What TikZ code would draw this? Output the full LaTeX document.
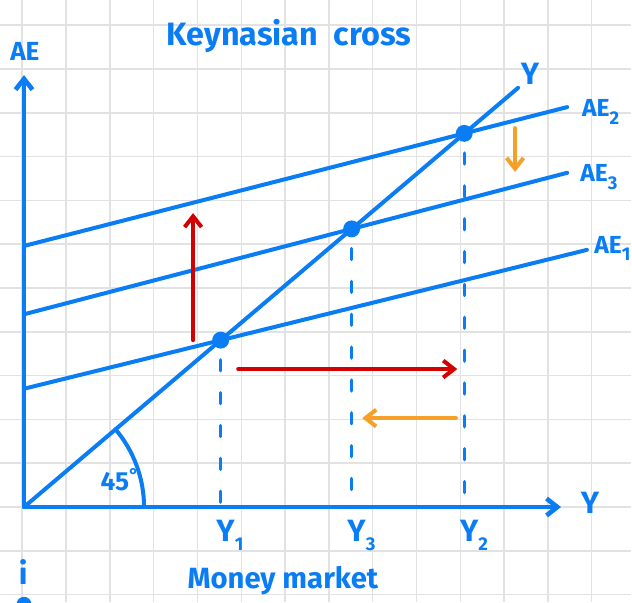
\documentclass[tikz,border=0pt]{standalone}
\usepackage{fontspec}
\setmainfont{Fira Sans}
\usepackage{tikz}
\usetikzlibrary{arrows.meta}
\definecolor{penblue}{RGB}{10,125,245}
\definecolor{penred}{RGB}{210,0,0}
\definecolor{penorange}{RGB}{245,160,40}
\definecolor{gridgray}{RGB}{226,226,226}
\newcommand{\sub}[1]{\raisebox{-0.55ex}{\fontsize{12}{12}\selectfont #1}}

\begin{document}
\begin{tikzpicture}[>={Straight Barb[length=7pt,width=11pt]},
    pen/.style={penblue,line width=2.6pt,line cap=round,line join=round},
    hand/.style={text=penblue,font=\bfseries\fontsize{17}{17}\selectfont},
    bighand/.style={hand,font=\bfseries\fontsize{20}{20}\selectfont},
    aehand/.style={hand,font=\bfseries\fontsize{16}{16}\selectfont,anchor=west,inner sep=1pt},
    dashline/.style={penblue,line width=2.2pt,line cap=round,dash pattern=on 0.25cm off 0.5cm},
    dot/.style={circle,fill=penblue,inner sep=0pt,minimum size=11pt}]
        \def\xmax{12.26}
        \def\ymax{9.86}

        \useasboundingbox (-0.548,-2.169) rectangle (13.88,11.575);

        %------------------
        % グリッド
        %------------------
        \draw[gridgray,line width=1pt,xshift=-0.04cm] (-0.5,-2.169) grid (13.9,11.575);

        %------------------
        % 軸
        %------------------
        \coordinate (O) at (0,0);
        \draw[<->,pen,line width=3pt] (0,\ymax)--(O)--(\xmax,0);

        % 直線
        \draw[pen] (O)--(11.28,9.57) coordinate (Yend);
        \draw[pen] (0,5.96)--(12.40,9.13) coordinate (AEtwo);
        \draw[pen] (0,4.40)--(12.40,7.63) coordinate (AEthree);
        \draw[pen] (0,2.70)--(12.85,5.87) coordinate (AEone);

        % 45度
        \draw[pen] (2.74,0) arc[start angle=0,end angle=40.3,radius=2.74];

        % 均衡点
        \node[dot] (E1) at (4.49,3.81) {};
        \node[dot] (E3) at (7.48,6.35) {};
        \node[dot] (E2) at (10.05,8.53) {};

        % 点線
        \draw[dashline] ([yshift=-0.45cm]E1.center)--(E1 |- O);
        \draw[dashline] ([yshift=-0.45cm]E3.center)--(E3 |- O);
        \draw[dashline] ([yshift=-0.45cm]E2.center)--(E2 |- O);

        %------------------
        % 矢印
        %------------------
        \draw[->,penred,line width=2.6pt,line cap=round] (3.86,3.81)--(3.86,6.71);
        \draw[->,penred,line width=2.6pt,line cap=round] (4.89,3.15)--(9.89,3.15);
        \draw[->,penorange,line width=2.6pt,line cap=round] (11.21,8.65)--(11.21,7.65);
        \draw[->,penorange,line width=2.6pt,line cap=round] (9.86,2.03)--(7.72,2.03);

        % ラベル
        \node[hand,font=\bfseries\fontsize{21}{21}\selectfont] (title) at (6.05,10.75) {Keynasian\ \ cross};
        \node[hand] (AElab) at (0.02,10.39) {AE};
        \node[bighand] (Ylab) at (12.92,0.09) {Y};
        \node[bighand] (Ylinelab) at (11.55,9.89) {Y};
        \node[aehand] (AE2lab) at (12.70,9.02) {AE\sub{2}};
        \node[aehand] (AE3lab) at (12.66,7.53) {AE\sub{3}};
        \node[aehand] (AE1lab) at (12.98,5.90) {AE\sub{1}};
        \node[bighand,anchor=north west] (Y1lab) at ([xshift=-0.22cm,yshift=-0.18cm]E1 |- O) {Y\sub{1}};
        \node[bighand,anchor=north west] (Y3lab) at ([xshift=-0.22cm,yshift=-0.18cm]E3 |- O) {Y\sub{3}};
        \node[bighand,anchor=north west] (Y2lab) at ([xshift=-0.22cm,yshift=-0.18cm]E2 |- O) {Y\sub{2}};
        \node[hand] (angle) at (2.19,0.62) {45\textsuperscript{°}};
        \node[hand,font=\bfseries\fontsize{19}{19}\selectfont] (money) at (5.91,-1.67) {Money market};
        \node[bighand] (ilab) at (-0.02,-1.48) {i};
        \fill[penblue] (0,-2.22) circle (0.17);
      \end{tikzpicture}
\end{document}
